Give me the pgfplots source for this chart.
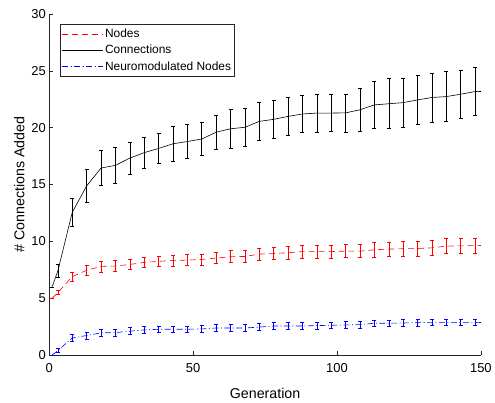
\documentclass[border=0pt]{standalone}
\usepackage{fontspec}
\setmainfont{Liberation Sans}
\usepackage{pgfplots}
\usepackage{pgfplotstable}
\pgfplotsset{compat=1.18}

\definecolor{axgray}{rgb}{0.15,0.15,0.15}

% generation, mean, std
\pgfplotstableread{
x y e
1 5.0 0
3 5.5 0.18
8 6.9 0.4
13 7.45 0.43
18 7.8 0.48
23 7.83 0.5
28 7.97 0.45
33 8.15 0.45
38 8.24 0.45
43 8.32 0.47
48 8.35 0.48
53 8.41 0.48
58 8.53 0.5
63 8.65 0.53
68 8.67 0.53
73 8.88 0.55
78 8.93 0.55
83 9.0 0.55
88 9.1 0.55
93 9.1 0.55
98 9.1 0.55
103 9.14 0.57
108 9.14 0.58
113 9.26 0.63
118 9.32 0.63
123 9.35 0.65
128 9.37 0.65
133 9.43 0.68
138 9.58 0.66
143 9.6 0.65
148 9.63 0.65
150 9.65 0
}\nodesdata

\pgfplotstableread{
x y e
1 6.0 0
3 7.4 0.55
8 12.55 1.2
13 14.87 1.45
18 16.45 1.55
23 16.68 1.55
28 17.32 1.4
33 17.8 1.35
38 18.17 1.35
43 18.58 1.5
48 18.78 1.5
53 19.0 1.47
58 19.6 1.5
63 19.9 1.7
68 20.03 1.7
73 20.55 1.7
78 20.73 1.7
83 20.99 1.67
88 21.2 1.65
93 21.28 1.65
98 21.28 1.63
103 21.3 1.67
108 21.57 1.85
113 22.0 2.1
118 22.1 2.2
123 22.2 2.15
128 22.44 2.15
133 22.65 2.17
138 22.73 2.2
143 22.94 2.13
148 23.17 2.1
150 23.2 0
}\conndata

\pgfplotstableread{
x y e
1 0 0
3 0.4 0.2
8 1.5 0.3
13 1.72 0.3
18 1.95 0.3
23 1.98 0.3
28 2.1 0.3
33 2.21 0.3
38 2.27 0.3
43 2.27 0.3
48 2.27 0.3
53 2.3 0.3
58 2.38 0.3
63 2.38 0.3
68 2.38 0.3
73 2.46 0.3
78 2.56 0.3
83 2.56 0.3
88 2.56 0.3
93 2.59 0.3
98 2.62 0.3
103 2.65 0.3
108 2.68 0.3
113 2.8 0.3
118 2.8 0.3
123 2.82 0.3
128 2.85 0.3
133 2.88 0.3
138 2.88 0.3
143 2.88 0.3
148 2.88 0.3
150 2.88 0
}\neurodata

\pgfplotsset{
    ebar/.style={
        line width=0.6pt, mark=none,
        error bars/.cd, y dir=both, y explicit,
        error bar style={solid, line width=0.6pt, draw=#1},
        error mark options={rotate=90, mark size=2pt, solid, line width=0.6pt, draw=#1},
        /pgfplots/.cd
    }
}

\begin{document}
\begin{tikzpicture}
\begin{axis}[
    name=ax,
    set layers,
    scale only axis,
    width=434pt,
    height=343pt,
    xmin=0, xmax=150,
    ymin=0, ymax=30,
    xtick={0,50,100,150},
    ytick={0,5,10,15,20,25,30},
    axis lines*=left,
    axis line style={draw=axgray, line width=0.5pt},
    tick style={draw=axgray, line width=0.5pt},
    tick align=inside,
    major tick length=4pt,
    ticklabel style={font=\fontsize{13}{15}\selectfont},
    xticklabel style={yshift=-5pt},
    /pgf/number format/assume math mode=true,
    xlabel={Generation},
    ylabel={\# Connections Added},
    xlabel shift=9pt,
    label style={font=\fontsize{14.3}{16}\selectfont},
    legend style={
        at={(0.026,0.969)}, anchor=north west,
        draw=axgray, line width=0.5pt,
        font=\fontsize{12}{13}\selectfont,
        inner xsep=1.5pt, inner ysep=3pt, row sep=3pt,
        nodes={inner sep=1.5pt}
    },
    legend cell align=left,
    legend image code/.code={\draw[#1] (0pt,0pt) -- (41pt,0pt);},
]

\addplot[red, dash pattern=on 6pt off 4pt, ebar=red]
    table[x=x, y=y, y error=e] {\nodesdata};
\addplot[black, ebar=black]
    table[x=x, y=y, y error=e] {\conndata};
\addplot[blue, dash pattern=on 6pt off 2.5pt on 1pt off 2.5pt, ebar=blue]
    table[x=x, y=y, y error=e] {\neurodata};

\legend{Nodes, Connections, Neuromodulated Nodes}
\end{axis}
% canvas the size of the original figure
\path ([xshift=-49.5pt, yshift=-43pt]ax.south west) rectangle ([xshift=11.5pt, yshift=14pt]ax.north east);
\end{tikzpicture}
\end{document}
